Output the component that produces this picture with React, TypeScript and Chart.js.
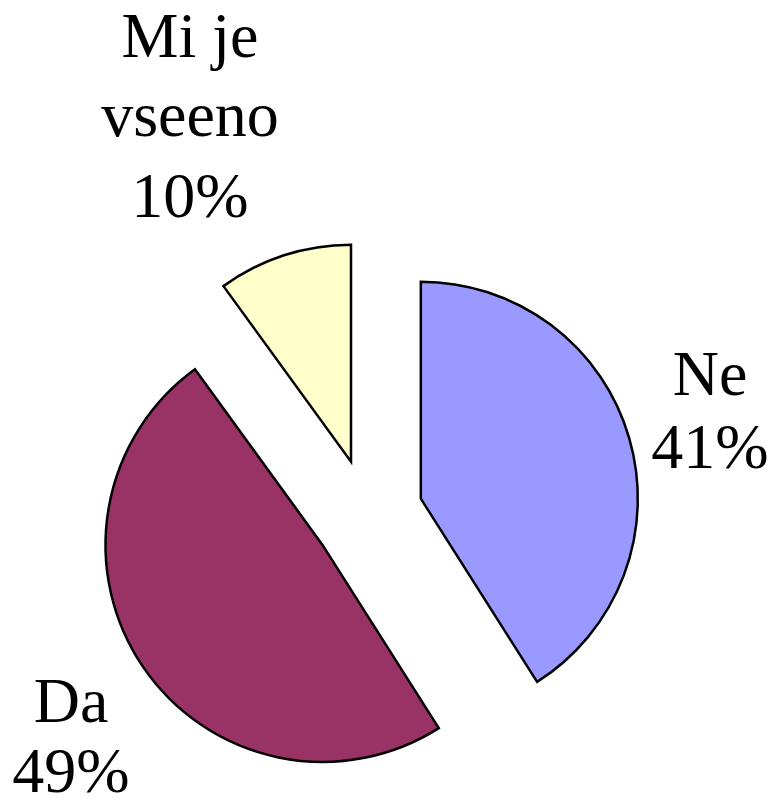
import React, { useEffect, useRef } from 'react';
import { Chart, registerables } from 'chart.js';

Chart.register(...registerables);

// ---- data ----
const categories: string[] = ['Ne', 'Da', 'Mi je vseeno'];
const values: number[] = [41, 49, 10];
const labelLines: string[][] = [['Ne'], ['Da'], ['Mi je', 'vseeno']];

// ---- styles ----
const colors: string[] = ['#9999FF', '#993366', '#FFFFCC'];
const EXPLODE = 55;
const RADIUS = 217;
const FONT = '64px "Liberation Serif", "Times New Roman", serif';
const LABEL_ANCHORS = [
  { x: 710, baselines: [395, 468] },
  { x: 71, baselines: [722, 792] },
  { x: 190, baselines: [57, 136, 217] },
];

const explodePlugin = {
  id: 'explodeSlices',
  beforeDatasetDraw(chart: any, args: any) {
    const ctx = chart.ctx;
    args.meta.data.forEach((arc: any) => {
      const { startAngle, endAngle } = arc.getProps(['startAngle', 'endAngle'], true);
      const mid = (startAngle + endAngle) / 2;
      ctx.save();
      ctx.translate(Math.cos(mid) * EXPLODE, Math.sin(mid) * EXPLODE);
      arc.draw(ctx, chart.chartArea);
      ctx.restore();
    });
    return false;
  },
};

const labelPlugin = {
  id: 'sliceLabels',
  afterDraw(chart: any) {
    const ctx = chart.ctx;
    ctx.save();
    ctx.font = FONT;
    ctx.fillStyle = '#000000';
    ctx.textAlign = 'center';
    ctx.textBaseline = 'alphabetic';
    values.forEach((v, i) => {
      const lines = [...labelLines[i], `${v}%`];
      const a = LABEL_ANCHORS[i];
      lines.forEach((t, j) => ctx.fillText(t, a.x, a.baselines[j]));
    });
    ctx.restore();
  },
};

export default function App() {
  const ref = useRef<HTMLCanvasElement>(null);
  useEffect(() => {
    if (!ref.current) return;
    const chart = new Chart(ref.current, {
      type: 'pie',
      data: {
        labels: categories,
        datasets: [
          {
            data: values,
            backgroundColor: colors,
            borderColor: '#000000',
            borderWidth: 2.5,
            borderJoinStyle: 'miter',
            radius: RADIUS,
          } as any,
        ],
      },
      options: {
        responsive: false,
        animation: false,
        events: [],
        layout: { padding: { top: 224, bottom: 0, left: 0, right: 34 } },
        plugins: {
          legend: { display: false },
          tooltip: { enabled: false },
        },
      },
      plugins: [explodePlugin, labelPlugin],
    });
    return () => chart.destroy();
  }, []);
  return (
    <div style={{ position: 'fixed', left: 0, top: 0, width: 770, height: 804, background: '#ffffff' }}>
      <canvas ref={ref} width={770} height={804} style={{ display: 'block' }} />
    </div>
  );
}
